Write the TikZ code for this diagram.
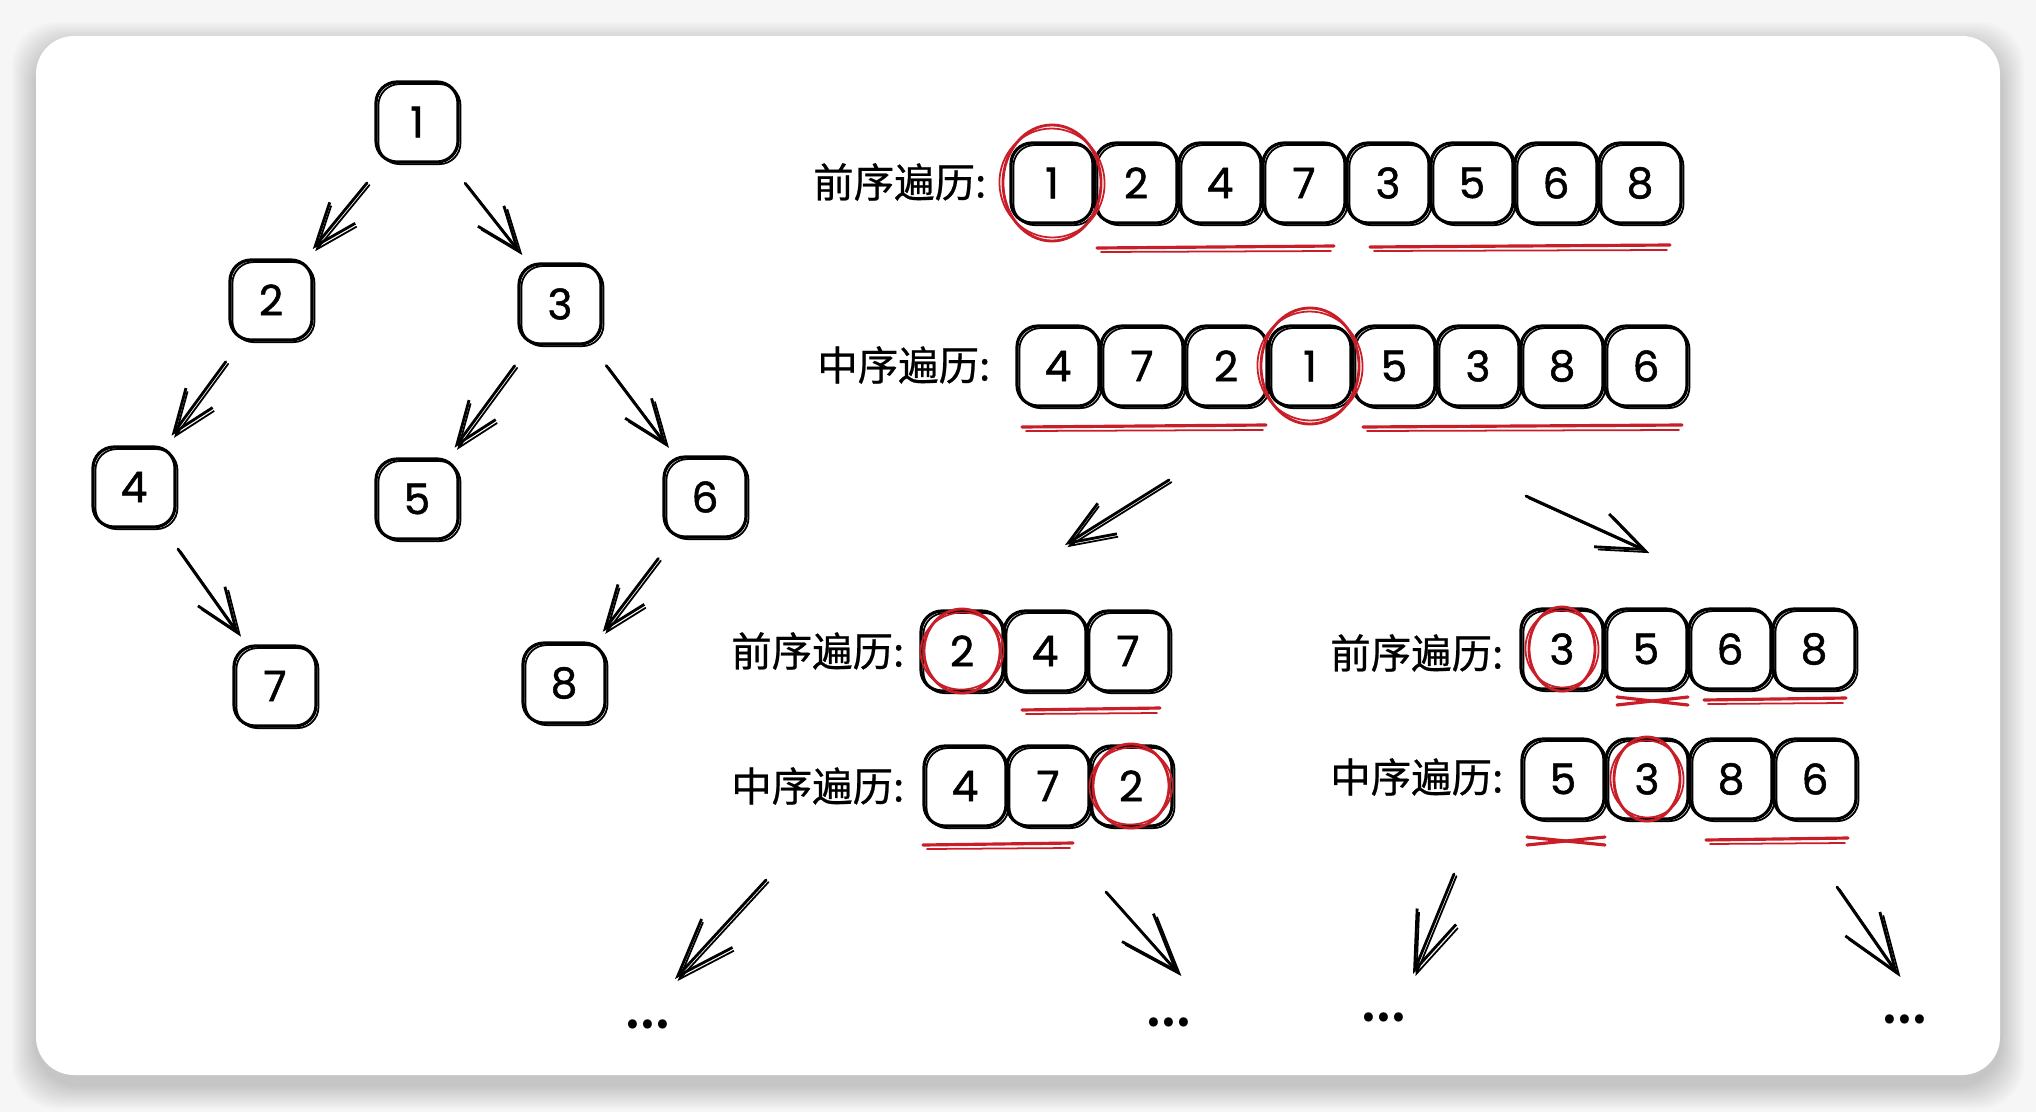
\documentclass[tikz,border=0pt]{standalone}
\usepackage{fontspec}
\newfontfamily\cjk{Noto Sans CJK SC}[FakeBold=0.6]
\newfontfamily\cjkdots{Noto Sans CJK SC}
\newfontfamily\hand{Poppins}[FakeBold=1.2]
\usetikzlibrary{arrows.meta}
\definecolor{markred}{RGB}{201,30,40}
\definecolor{pagegray}{RGB}{246,246,246}
\tikzset{
  rough/.style={postaction={draw, line width=0.5pt, transform canvas={shift={(0.7pt,-0.6pt)}}}},
  cell/.style={draw, line width=0.9pt, rounded corners=6pt, minimum width=0.82cm, minimum height=0.8cm,
    inner sep=0pt, font=\hand\fontsize{12}{12}\selectfont, rough},
  seqlabel/.style={anchor=east, inner sep=0pt, font=\cjk\fontsize{11.5}{11.5}\selectfont},
  treearrow/.style={-{Straight Barb[length=4.3mm, width=3.3mm]}, line width=0.8pt, line cap=round,
    shorten <=0.25cm, shorten >=0.12cm, rough},
  bigarrow/.style={-{Straight Barb[length=4.6mm, width=3.6mm]}, line width=0.8pt, line cap=round, rough},
  smallarrow/.style={-{Straight Barb[length=5.8mm, width=4.2mm]}, line width=0.8pt, line cap=round, rough},
  ring/.style={draw=markred, line width=0.8pt},
  uline/.style={draw=markred, line width=0.9pt, line cap=round},
  dots/.style={font=\cjkdots\bfseries\fontsize{12}{12}\selectfont},
}
\begin{document}
\begin{tikzpicture}[x=0.01cm, y=-0.01cm]
  \useasboundingbox (0,0) rectangle (2036,1112);
  \fill[pagegray] (0,0) rectangle (2036,1112);
  % card with soft shadow
  \foreach \s in {2,4,...,24}
    \fill[black, opacity=0.014, rounded corners=0.45cm] (36-\s,36-\s+10) rectangle (2000+\s,1075+\s+10);
  \fill[white, rounded corners=0.38cm] (36,36) rectangle (2000,1075);

  % tree
  \node[cell] (t1) at (417,122) {1};
  \node[cell] (t2) at (271,300) {2};
  \node[cell] (t3) at (560,304) {3};
  \node[cell] (t4) at (134,487) {4};
  \node[cell] (t5) at (417,499) {5};
  \node[cell] (t6) at (705,497) {6};
  \node[cell] (t7) at (275,686) {7};
  \node[cell] (t8) at (564,683) {8};
  \draw[treearrow] (t1) -- (t2);
  \draw[treearrow] (t1) -- (t3);
  \draw[treearrow] (t2) -- (t4);
  \draw[treearrow] (t3) -- (t5);
  \draw[treearrow] (t3) -- (t6);
  \draw[treearrow] (t4) -- (t7);
  \draw[treearrow] (t6) -- (t8);

  % full sequences
  \node[seqlabel] (preA) at (987,182) {前序遍历:};
  \foreach \v [count=\i] in {1,2,4,7,3,5,6,8}
    \node[cell] (pa\i) at (968+84*\i,183) {\v};
  \node[seqlabel] (inA) at (991,365) {中序遍历:};
  \foreach \v [count=\i] in {4,7,2,1,5,3,8,6}
    \node[cell] (ia\i) at (974+84*\i,366) {\v};

  % left subtree
  \node[seqlabel] (preL) at (905,651) {前序遍历:};
  \foreach \v [count=\i] in {2,4,7}
    \node[cell] (pl\i) at (879+83*\i,651) {\v};
  \node[seqlabel] (inL) at (905,786) {中序遍历:};
  \foreach \v [count=\i] in {4,7,2}
    \node[cell] (il\i) at (882+83*\i,786) {\v};

  % right subtree
  \node[seqlabel] (preR) at (1504,653) {前序遍历:};
  \foreach \v [count=\i] in {3,5,6,8}
    \node[cell] (pr\i) at (1478+84*\i,649) {\v};
  \node[seqlabel] (inR) at (1504,777) {中序遍历:};
  \foreach \v [count=\i] in {5,3,8,6}
    \node[cell] (ir\i) at (1479+84*\i,779) {\v};

  % red rings round the roots
  \foreach \n/\rx/\ry in {pa1/0.49/0.58, ia4/0.49/0.58, pl1/0.38/0.42, il3/0.38/0.42, pr1/0.33/0.42, ir2/0.33/0.42} {
    \draw[ring] (\n) ellipse [x radius=\rx cm, y radius=\ry cm];
    \draw[ring, line width=0.5pt, rotate around={7:(\n)}] (\n) ellipse [x radius=\rx cm+1pt, y radius=\ry cm-1pt];
  }

  % red underlines
  \foreach \xa/\xb/\yy in {1097/1334/248, 1370/1670/247, 1022/1266/427, 1363/1682/427,
                           1022/1160/710, 923/1073/845, 1704/1846/700, 1706/1848/840} {
    \draw[uline] (\xa,\yy) -- (\xb,\yy-2);
    \draw[uline, line width=0.5pt] (\xa+4,\yy+4) -- (\xb-3,\yy+3);
  }
  \foreach \xa/\xb/\yy in {1617/1688/701, 1527/1605/841} {
    \draw[uline] (\xa,\yy-4) -- (\xb,\yy+4);
    \draw[uline] (\xa,\yy+4) -- (\xb,\yy-4);
  }

  % split arrows
  \coordinate (splitL) at (1169,480);
  \coordinate (splitLtip) at (1065,545);
  \coordinate (splitR) at (1526,496);
  \coordinate (splitRtip) at (1647,551);
  \draw[bigarrow] (splitL) -- (splitLtip);
  \draw[bigarrow] (splitR) -- (splitRtip);

  % further splits
  \coordinate (a1) at (766,880);  \coordinate (a1tip) at (675,979);
  \coordinate (a2) at (1106,892); \coordinate (a2tip) at (1179,974);
  \coordinate (a3) at (1454,874); \coordinate (a3tip) at (1413,974);
  \coordinate (a4) at (1837,887); \coordinate (a4tip) at (1898,975);
  \draw[smallarrow] (a1) -- (a1tip);
  \draw[smallarrow] (a2) -- (a2tip);
  \draw[smallarrow] (a3) -- (a3tip);
  \draw[smallarrow] (a4) -- (a4tip);
  \node[dots] (d1) at (648,1024) {...};
  \node[dots] (d2) at (1169,1022) {...};
  \node[dots] (d3) at (1384,1017) {...};
  \node[dots] (d4) at (1905,1019) {...};
\end{tikzpicture}
\end{document}
